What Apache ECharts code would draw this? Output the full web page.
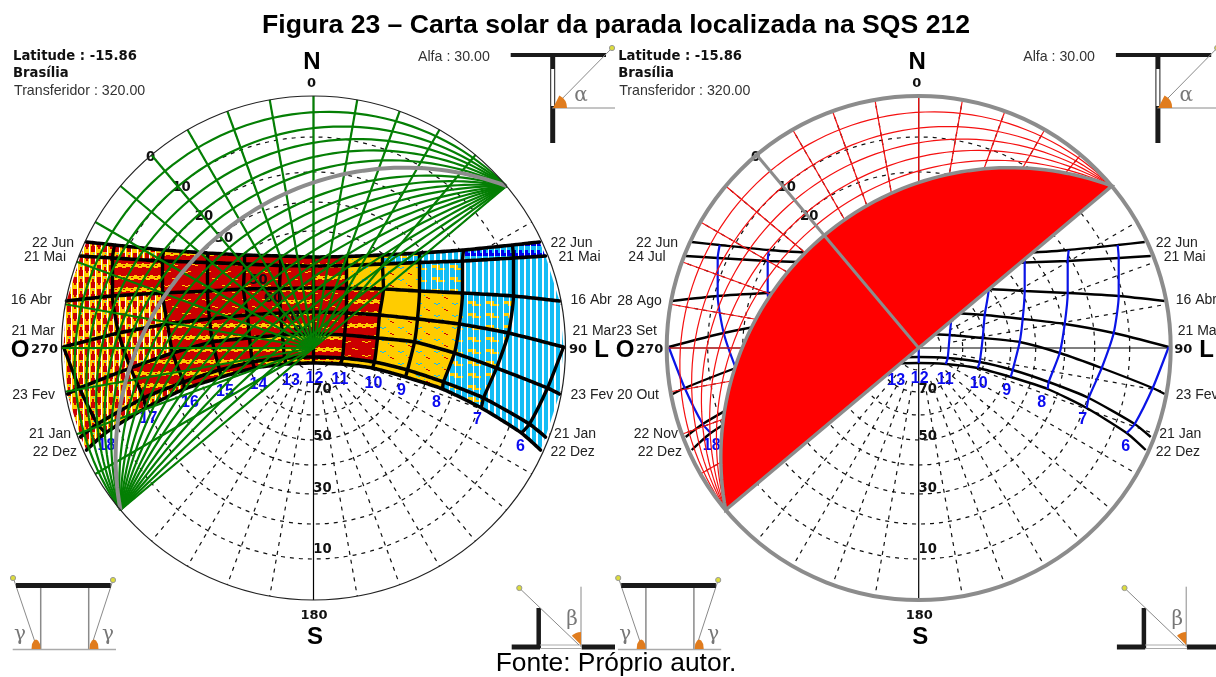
<!DOCTYPE html>
<html>
<head>
<meta charset="utf-8">
<style>html,body{margin:0;padding:0;background:#fff}#chart{width:1216px;height:677px}</style>
<script src="https://cdn.jsdelivr.net/npm/echarts@6/dist/echarts.min.js"></script>
</head>
<body>
<div id="chart"></div>
<script>
const chartRadius = 252;

// columns: west end, 18h, 17h ... 7h, 6h, east end (null = sun not up at that hour)
const jun22 = [[-227,106],null,[-199,103],[-150,98],[-106,95],[-69,93],[-33,92],[0,91],[33,91.5],[69,93],[106,95],[150,98],[199,103],null,[226,106]];
const mai21 = [[-233,92],null,[-201,90],[-151,87],[-106,85.5],[-69,84],[-33,82.5],[0,82],[33,82.5],[69,84],[106,85.5],[149,87],[200,90],null,[232,92]];
const abr16 = [[-247,47],null,[-201,52],[-151,55],[-106,57],[-70,59],[-34,59.5],[0,60],[33,59.5],[70,59],[106,57],[149,55],[200,52],null,[246,47]];
const mar21 = [[-250,1],[-250,1],[-195,15],[-146,24],[-104,29],[-66,33],[-33,35],[0,36],[33,35],[66,33],[104,29],[146,24],[195,15],[250,1],[250,1]];
const fev23 = [[-246,-46],[-234,-40],[-183,-20],[-141,-5],[-101,6],[-64,10],[-31,13],[0,14],[31,13],[64,10],[101,6],[141,-5],[183,-20],[234,-40],[246,-46]];
const jan21 = [[-233,-89],[-216,-76],[-170,-50],[-130,-34],[-94,-22],[-61,-14],[-29,-10],[0,-9],[29,-10],[61,-14],[94,-22],[130,-34],[170,-50],[216,-76],[232,-89]];
const dez22 = [[-227,-102],[-208,-85],[-168,-60],[-129,-41],[-92,-29],[-59,-20],[-27,-16],[0,-15],[27,-16],[59,-20],[92,-29],[129,-41],[168,-60],[208,-85],[227,-102]];
const dateRows = [jun22, mai21, abr16, mar21, fev23, jan21, dez22];

// temperature class of each cell between date lines and hour lines
const cellClasses = [
  "wwwmmmmmfqcbbb",
  "wwmrrrrmffqccc",
  "wwwrrrmrmyfqcc",
  "wwwmmmmrmffqcc",
  "wwmmmmmmrffqcc",
  "wwwmmmmmyyfqcc",
];

const azimuthLines = [10,20,30,40,50,60,70,80,100,110,120,130,140,150,160,170,190,200,210,220,230,240,250,260,280,290,300,310,320,330,340,350];
const altitudeRadii = [211,176,146,117,92,67,44,22];
const crossAzimuths = [0,90,180,270];

// shading mask of the protractor, wall axis at 320
const maskAxis = 320;
const maskArcs = [231,211,193,176,160,147,131,117,104,92,79,67,56,44,33,22,11];
const maskRadials = [230,240,250,260,270,280,290,300,310,320,330,340,350,0,10,20,30,40,50];
const maskEdge = 147;

const hourLabels = [[207,-99,"6"],[164,-72,"7"],[123,-55,"8"],[88,-43,"9"],[60,-36,"10"],[26.5,-32,"11"],[1,-31,"12"],[-22.5,-33,"13"],[-55,-37,"14"],[-88.5,-43.7,"15"],[-123.5,-54.7,"16"],[-165,-71,"17"],[-207,-98,"18"]];
const altitudeLabels = [[9,-202,"10"],[9,-141,"30"],[9,-89,"50"],[9,-42,"70"]];
const maskLabelsLeft = [[-163,190,"0"],[-132,160,"10"],[-109.5,131,"20"],[-89.5,109,"30"],[-55,67,"50"],[-40.5,49,"60"],[-23,30,"70"],[-11,16,"90"]];
const maskLabelsRight = [[-163,190,"0"],[-132,160,"10"],[-109.5,131,"20"]];
const scaleLabels = [[-2,264,"0"],[0.5,-268,"180"],[-269,-2,"270"],[264.5,-2,"90"]];
const compassLabels = [[-1.5,286,"N"],[1.5,-289,"S"],[-293.5,-2,"O"],[288,-2,"L"]];
const datesRightSide = [[237,105,"22 Jun"],[245,91,"21 Mai"],[257,48,"16 Abr"],[259,17,"21 Mar"],[257,-47,"23 Fev"],[240.5,-86,"21 Jan"],[237,-104,"22 Dez"]];
const datesLeftChart = [[-239.5,105,"22 Jun"],[-247.5,91,"21 Mai"],[-261.5,48,"16 Abr"],[-258.5,17,"21 Mar"],[-258.5,-47,"23 Fev"],[-242.5,-86,"21 Jan"],[-236.5,-104,"22 Dez"]];
const datesRightChart = [[-240.7,105,"22 Jun"],[-253,91,"24 Jul"],[-257,47,"28 Ago"],[-261.7,17,"23 Set"],[-259.7,-47,"20 Out"],[-240.7,-86,"22 Nov"],[-236.7,-104,"22 Dez"]];

const centers = [313.5, 918.7];
const centerY = 348;
const panelShift = 605.2;

const RED = "#cc0000", YELLOW = "#ffcc00", CYAN = "#14bdf5", BLUE = "#0000ee";

function tile(w, h, bg, rects) {
  const c = document.createElement("canvas");
  c.width = w;
  c.height = h;
  const ctx = c.getContext("2d");
  ctx.fillStyle = bg;
  ctx.fillRect(0, 0, w, h);
  rects.forEach((r) => {
    ctx.fillStyle = r[0];
    ctx.fillRect(r[1], r[2], r[3], r[4]);
  });
  return {image: c, repeat: "repeat"};
}

const patterns = {
  w: tile(12, 12, YELLOW, [[RED,1,1,4,6],[RED,7,6,4,6],[RED,2,7,2,2],[RED,8,3,2,3],["#fff",5,0,1,12],["#fff",11,0,1,12],[CYAN,9,1,1,1]]),
  m: tile(16, 12, RED, [[YELLOW,0,0,16,3],[YELLOW,2,3,4,1],[YELLOW,10,3,4,1],[YELLOW,6,11,3,1],[YELLOW,14,11,2,1],[RED,3,1,2,1],[RED,11,1,2,1]]),
  r: tile(20, 14, RED, [[YELLOW,2,5,3,1],[YELLOW,5,6,3,1],[YELLOW,8,5,3,1],[YELLOW,12,12,3,1],[YELLOW,15,13,3,1]]),
  y: tile(8, 8, YELLOW, []),
  f: tile(18, 12, YELLOW, [[CYAN,2,3,2,1],[CYAN,4,4,2,1],[CYAN,6,3,2,1],[RED,12,9,2,1],[RED,14,10,2,1],[CYAN,10,7,1,1]]),
  q: tile(18, 12, CYAN, [[YELLOW,0,1,8,3],[YELLOW,4,4,9,2],["#fff",5,0,1,12],["#fff",11,0,1,12],["#fff",17,0,1,12]]),
  c: tile(6, 10, CYAN, [["#fff",2,0,2,10]]),
  b: tile(6, 10, CYAN, [["#fff",2,0,1,10],[BLUE,3,0,3,6],[BLUE,0,3,2,3]]),
};

function mapped(api, pts) {
  return pts.map((p) => api.coord(p));
}

// circle arc through both ends of the wall, bulging to r along the wall axis
function maskArcPoints(r) {
  const R = chartRadius;
  const d = (R * R - r * r) / (2 * r);
  const rho = d + r;
  const a = (90 - maskAxis) * Math.PI / 180;
  const ux = Math.cos(a), uy = Math.sin(a);
  const phi = Math.asin(R / rho);
  const pts = [];
  for (let i = 0; i <= 80; i++) {
    const t = a - phi + 2 * phi * i / 80;
    pts.push([-ux * d + rho * Math.cos(t), -uy * d + rho * Math.sin(t)]);
  }
  return pts;
}

function azPoint(az, r) {
  const a = az * Math.PI / 180;
  return [r * Math.sin(a), r * Math.cos(a)];
}

function custom(g, z, data, renderItem) {
  return {
    type: "custom", xAxisIndex: g, yAxisIndex: g, z: z, silent: true, clip: false,
    data: data.map((v) => [v, 0]), renderItem: renderItem,
  };
}

function circles(g, z, radii, style) {
  return custom(g, z, radii, (p, api) => {
    const c = api.coord([0, 0]);
    return {type: "circle", shape: {cx: c[0], cy: c[1], r: api.size([api.value(0), 0])[0]}, style: Object.assign({fill: "none"}, style)};
  });
}

function radials(g, z, list, from, to, style) {
  return custom(g, z, list, (p, api) => {
    const az = api.value(0);
    return {type: "polyline", shape: {points: mapped(api, [azPoint(az, from), azPoint(az, to)])}, style: Object.assign({fill: "none"}, style)};
  });
}

function arcs(g, z, list, style) {
  return custom(g, z, list, (p, api) => (
    {type: "polyline", shape: {points: mapped(api, maskArcPoints(api.value(0)))}, style: Object.assign({fill: "none"}, style)}
  ));
}

function texts(g, z, items, font, fill, align) {
  return {
    type: "custom", xAxisIndex: g, yAxisIndex: g, z: z, silent: true, clip: false,
    data: items.map((t) => [t[0], t[1]]),
    renderItem: (p, api) => {
      const c = api.coord([api.value(0), api.value(1)]);
      return {type: "text", x: c[0], y: c[1], style: {text: items[p.dataIndex][2], font: font, fill: fill, align: align, verticalAlign: "middle"}};
    },
  };
}

function curve(g, z, pts, lineStyle) {
  const clean = pts.filter((p, i) => p && (i === 0 || !pts[i - 1] || p[0] !== pts[i - 1][0] || p[1] !== pts[i - 1][1]));
  return {
    type: "line", xAxisIndex: g, yAxisIndex: g, z: z, silent: true, clip: false,
    data: clean, showSymbol: false, smooth: 0.2, lineStyle: lineStyle,
  };
}

function hourColumn(c) {
  return dateRows.map((r) => r[c]).filter(Boolean);
}

function corner(row, c) {
  return row[c] || (c === 1 ? row[0] : row[14]);
}

const cellList = [];
cellClasses.forEach((s, r) => s.split("").forEach((k, b) => cellList.push({r: r, b: b, k: k})));

function cellSeries(g, z) {
  return custom(g, z, cellList.map((c, i) => i), (p, api) => {
    const cell = cellList[p.dataIndex];
    const top = dateRows[cell.r], bot = dateRows[cell.r + 1];
    const pts = [corner(top, cell.b), corner(top, cell.b + 1), corner(bot, cell.b + 1), corner(bot, cell.b)];
    return {type: "polygon", shape: {points: mapped(api, pts)}, style: {fill: patterns[cell.k], stroke: null}};
  });
}

const FONT_BOLD = "bold 13.2px 'DejaVu Sans'";
const FONT_DATE = "14px 'Liberation Sans'";
const FONT_HOUR = "bold 16px 'Liberation Sans'";
const FONT_COMPASS = "bold 24px 'Liberation Sans'";
const FONT_SMALL = "14.2px 'Liberation Sans'";

function commonSeries(g, dates, maskLabels) {
  const dash = {stroke: "#111", lineWidth: 1.2, lineDash: [4, 5]};
  return [
    radials(g, 1, azimuthLines, 35, chartRadius, dash),
    circles(g, 1, altitudeRadii, dash),
    radials(g, 1, crossAzimuths, 0, chartRadius, {stroke: "#000", lineWidth: 1.2}),
    texts(g, 4, altitudeLabels, FONT_BOLD, "#111", "center"),
    texts(g, 4, maskLabels, FONT_BOLD, "#111", "center"),
    texts(g, 4, scaleLabels, "bold 13px 'DejaVu Sans'", "#111", "center"),
    texts(g, 4, compassLabels, FONT_COMPASS, "#000", "center"),
    texts(g, 4, hourLabels, FONT_HOUR, "#0a0af0", "center"),
    texts(g, 4, dates, FONT_DATE, "#222", "right"),
    texts(g, 4, datesRightSide, FONT_DATE, "#222", "left"),
  ];
}

// left chart: coloured cells, black grid, green protractor
const leftSeries = commonSeries(0, datesLeftChart, maskLabelsLeft).concat([
  cellSeries(0, 2),
  radials(0, 3, [50], chartRadius, -chartRadius, {stroke: "#000", lineWidth: 1}),
  arcs(0, 5, maskArcs, {stroke: "#047f04", lineWidth: 2.2}),
  radials(0, 5, maskRadials, 0, chartRadius, {stroke: "#047f04", lineWidth: 2.2}),
  arcs(0, 6, [maskEdge], {stroke: "#8c8c8c", lineWidth: 4}),
  circles(0, 7, [chartRadius], {stroke: "#222", lineWidth: 1.2}),
]);
dateRows.forEach((row) => leftSeries.push(curve(0, 3, row, {color: "#000", width: 3.6, type: [5, 1], cap: "round"})));
for (let c = 1; c <= 13; c++) {leftSeries.push(curve(0, 3, hourColumn(c), {color: "#000", width: 3.4}));}

// right chart: plain grid, red shaded segment
const rightSeries = commonSeries(1, datesRightChart, maskLabelsRight).concat([
  arcs(1, 5, maskArcs.slice(0, 5), {stroke: "#f51010", lineWidth: 1.2}),
  radials(1, 5, maskRadials, 0, chartRadius, {stroke: "#f51010", lineWidth: 1.2}),
  custom(1, 6, [maskEdge], (p, api) => (
    {type: "polygon", shape: {points: mapped(api, maskArcPoints(api.value(0)))}, style: {fill: "#ff0000", stroke: "#8c8c8c", lineWidth: 3.5}}
  )),
  radials(1, 7, [maskAxis], 0, chartRadius, {stroke: "#8c8c8c", lineWidth: 3}),
  circles(1, 7, [chartRadius], {stroke: "#8c8c8c", lineWidth: 4}),
]);
dateRows.forEach((row) => rightSeries.push(curve(1, 3, row, {color: "#000", width: 2.4})));
for (let c = 1; c <= 13; c++) {rightSeries.push(curve(1, 3, hourColumn(c), {color: "#0a14e6", width: 2.2}));}

function line(x1, y1, x2, y2, stroke, w) {
  return {type: "line", shape: {x1: x1, y1: y1, x2: x2, y2: y2}, style: {stroke: stroke, lineWidth: w}};
}

function dot(x, y) {
  return {type: "circle", shape: {cx: x, cy: y, r: 2.6}, style: {fill: "#dcdc3c", stroke: "#999", lineWidth: 1}};
}

function bump(x, y) {
  const pts = [[-4.5,0],[-4,-5],[-2,-8.5],[0,-9.5],[2,-8.5],[4,-5],[4.5,0]];
  return {type: "polygon", shape: {points: pts.map((p) => [x + p[0], y + p[1]])}, style: {fill: "#e07c1e"}};
}

function label(x, y, text, font, fill, align) {
  return {type: "text", x: x, y: y, style: {text: text, font: font, fill: fill || "#222", align: align || "left", verticalAlign: "middle"}};
}

function insets(dx) {
  const GREY = "#8a8a8a";
  const greek = "20px 'DejaVu Serif'";
  return {
    type: "group", x: dx, y: 0, silent: true,
    children: [
      // alfa
      line(510.7, 55, 606, 55, "#1a1a1a", 4),
      line(552.7, 55, 552.7, 143, "#1a1a1a", 5),
      {type: "rect", shape: {x: 551.2, y: 69, width: 3, height: 37}, style: {fill: "#fff"}},
      line(552, 108, 615, 108, GREY, 1),
      line(553, 108, 612, 48, GREY, 1),
      {type: "sector", shape: {cx: 553, cy: 108, r: 14, startAngle: -1.1, endAngle: 0}, style: {fill: "#e07c1e"}},
      dot(612, 48),
      label(581, 96, "α", greek, "#777", "center"),
      // gama
      line(40.7, 585, 40.7, 649, GREY, 1.5),
      line(88.7, 585, 88.7, 649, GREY, 1.5),
      line(12.7, 649.5, 116, 649.5, "#aaa", 1.5),
      line(14, 580, 37, 648, GREY, 1),
      line(113, 580, 90.7, 648, GREY, 1),
      line(16, 585.5, 110.7, 585.5, "#1a1a1a", 5),
      bump(36, 649),
      bump(94, 649),
      dot(13, 578),
      dot(113, 580),
      label(20, 635, "γ", greek, "#777", "center"),
      label(108, 635, "γ", greek, "#777", "center"),
      // beta
      line(538.7, 608, 538.7, 649, "#1a1a1a", 4.5),
      line(511.7, 647, 540, 647, "#1a1a1a", 5),
      line(581.7, 647, 615, 647, "#1a1a1a", 5),
      line(540, 645, 582, 645, "#aaa", 1),
      line(540, 648.5, 582, 648.5, "#aaa", 1),
      line(581, 586.7, 581, 647, GREY, 1),
      line(519.3, 588, 579, 645, GREY, 1),
      {type: "sector", shape: {cx: 581, cy: 645, r: 13, startAngle: -Math.PI * 0.75, endAngle: -Math.PI * 0.5}, style: {fill: "#e07c1e"}},
      dot(519.3, 588),
      label(572, 620, "β", greek, "#777", "center"),
      // header
      label(13, 57, "Latitude : -15.86", FONT_BOLD, "#111"),
      label(13, 74, "Brasília", FONT_BOLD, "#111"),
      label(14, 91, "Transferidor : 320.00", FONT_SMALL, "#333"),
      label(418, 57, "Alfa : 30.00", FONT_SMALL, "#333"),
    ],
  };
}

const option = {
  animation: false,
  backgroundColor: "#fff",
  grid: centers.map((cx) => ({
    left: cx - chartRadius, top: centerY - chartRadius,
    width: chartRadius * 2, height: chartRadius * 2, show: false,
  })),
  xAxis: centers.map((cx, i) => ({type: "value", gridIndex: i, min: -chartRadius, max: chartRadius, show: false})),
  yAxis: centers.map((cx, i) => ({type: "value", gridIndex: i, min: -chartRadius, max: chartRadius, show: false})),
  graphic: {
    elements: [
      insets(0),
      insets(panelShift),
      label(616, 26, "Figura 23 – Carta solar da parada localizada na SQS 212", "bold 26.6px 'Liberation Sans'", "#000", "center"),
      label(616, 664, "Fonte: Próprio autor.", "26.4px 'Liberation Sans'", "#000", "center"),
    ],
  },
  series: leftSeries.concat(rightSeries),
};

const chart = echarts.init(document.getElementById("chart"), null, {renderer: "canvas"});
chart.setOption(option);
window.addEventListener("resize", () => chart.resize());
</script>
</body>
</html>
